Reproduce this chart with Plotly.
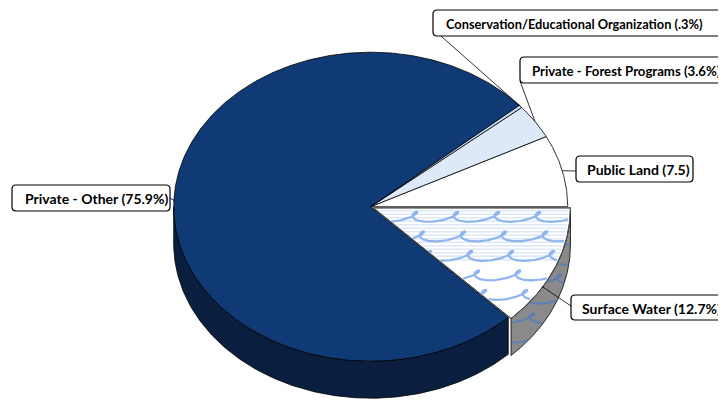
import numpy as np
import plotly.graph_objects as go

# ---------------- data ----------------
categories = ["Public Land", "Private - Forest Programs",
              "Conservation/Educational Organization", "Private - Other", "Surface Water"]
values = [7.5, 3.6, 0.3, 75.9, 12.7]
label_texts = ["Public Land (7.5)", "Private - Forest Programs (3.6%)",
               "Conservation/Educational Organization (.3%)", "Private - Other (75.9%)",
               "Surface Water (12.7%)"]

# ---------------- style / layout ----------------
top_colors = ["#ffffff", "#dde9f9", "#c9dcf5", "#103a75", "#ffffff"]
side_colors = ["#bdbdbd", "#a9b6c8", "#9aaac0", "#0a1f40", "#8a8a8a"]
W, H = 726, 401
PAGE_MARGIN = 8  # default browser body margin
CX, CY, RX, RY, DEPTH = 370.7, 206.7, 197.0, 154.5, 37.0
EXPLODE = [0, 0, 0, 0, 3.0]
# label boxes: (x0, y0, x1, y1, text_x, font_size), leader start point
boxes = [(576, 156, 693, 182, 585, 14), (520, 57, 760, 83, 530, 13.2),
         (433, 10, 760, 36, 444, 12.8), (12, 185, 170, 211, 23, 14),
         (571, 295, 724, 320, 580, 14)]
leader_start = [(576, 171), (520, 81), (433, 29), (170, 198), (571, 306)]
FONT = "Lato, Roboto, sans-serif"

total = sum(values)
cum = np.concatenate([[0], np.cumsum(values)]) / total * 360.0
starts, ends = cum[:-1], cum[1:]
mids = (starts + ends) / 2


def offset(i):
    m = np.radians(mids[i])
    return EXPLODE[i] * np.cos(m), -EXPLODE[i] * np.sin(m)


def ell(t, ox=0.0, oy=0.0, dz=0.0):
    t = np.radians(np.asarray(t, dtype=float))
    return CX + ox + RX * np.cos(t), CY + oy - RY * np.sin(t) + dz


fig = go.Figure()


def poly(xs, ys, fill, line="#000000", lw=0.8):
    fig.add_trace(go.Scatter(x=list(xs), y=list(ys), mode="lines", fill="toself",
                             fillcolor=fill, line=dict(color=line, width=lw),
                             hoverinfo="skip"))


def lines(xs, ys, color, lw):
    fig.add_trace(go.Scatter(x=xs, y=ys, mode="lines", line=dict(color=color, width=lw),
                             hoverinfo="skip", connectgaps=False))


def in_sector(x, y, i):
    ox, oy = offset(i)
    u = (x - CX - ox) / RX
    v = -(y - CY - oy) / RY
    r = u * u + v * v
    a = np.degrees(np.arctan2(v, u)) % 360
    return (r <= 0.985) & (a >= starts[i] + 0.4) & (a <= ends[i] - 0.4)


def in_side(x, y, i, s1, s2):
    ox, oy = offset(i)
    u = (x - CX - ox) / RX
    ok = np.abs(u) < 0.999
    uc = np.clip(u, -1, 1)
    t = (360 - np.degrees(np.arccos(uc))) % 360
    ytop = CY + oy + RY * np.sqrt(1 - uc * uc)
    return ok & (t >= s1 + 0.5) & (t <= s2 - 0.5) & (y >= ytop + 1) & (y <= ytop + DEPTH - 1)


def wave_lines(mask_fn, color, lw, y_rows, x_lo=330, x_hi=590):
    """Curling wave pattern (sheared prolate trochoid) clipped by mask_fn."""
    period, amp, loop, shear = 41.0, 5.0, 1.45, -0.9
    xs_all, ys_all = [], []
    for k, yr in enumerate(y_rows):
        s = np.arange(0, (x_hi - x_lo) / period * 2 * np.pi, 0.04)
        y = yr - amp * np.cos(s)
        x = x_lo + k * 7.0 + period / (2 * np.pi) * (s - loop * np.sin(s)) + shear * (y - yr)
        m = mask_fn(x, y)
        xs_all += [float(a) if mm else None for a, mm in zip(x, m)] + [None]
        ys_all += [float(b) if mm else None for b, mm in zip(y, m)] + [None]
    lines(xs_all, ys_all, color, lw)


# ---------------- sides (visible lower half) ----------------
for i in range(len(values)):
    s1, s2 = max(starts[i], 180.0), min(ends[i], 360.0)
    if s2 <= s1:
        continue
    ox, oy = offset(i)
    t = np.linspace(s1, s2, 200)
    xt, yt = ell(t, ox, oy)
    xb, yb = ell(t[::-1], ox, oy, DEPTH)
    poly(np.concatenate([xt, xb, xt[:1]]), np.concatenate([yt, yb, yt[:1]]), side_colors[i])
    if categories[i] == "Surface Water":
        rows = np.arange(CY + 14, CY + 200, 19.5)
        wave_lines(lambda x, y, i=i, s1=s1, s2=s2: in_side(x, y, i, s1, s2),
                   "#5d7fb5", 2.0, rows)

# ---------------- top faces ----------------
for i in range(len(values)):
    ox, oy = offset(i)
    n = max(int((ends[i] - starts[i]) * 2), 4)
    t = np.linspace(starts[i], ends[i], n)
    xa, ya = ell(t, ox, oy)
    cx, cy = CX + ox, CY + oy
    poly(np.concatenate([[cx], xa, [cx]]), np.concatenate([[cy], ya, [cy]]), top_colors[i])
    if categories[i] == "Surface Water":
        # faint horizontal stripes and wave pattern
        sx, sy = [], []
        for yy in np.arange(cy + 3, cy + 55, 3.5):
            x = np.arange(360, 575, 1.0)
            y = np.full_like(x, yy)
            m = in_sector(x, y, i)
            sx += [float(v) if mm else None for v, mm in zip(x, m)] + [None]
            sy += [float(yy) if mm else None for mm in m] + [None]
        lines(sx, sy, "#dde8f8", 1.5)
        rows = np.arange(cy + 9, cy + 130, 19.5)
        wave_lines(lambda x, y, i=i: in_sector(x, y, i), "#8fb5ee", 2.2, rows)
        fig.add_trace(go.Scatter(x=list(np.concatenate([[cx], xa, [cx]])),
                                 y=list(np.concatenate([[cy], ya, [cy]])), mode="lines",
                                 line=dict(color="#555555", width=0.9), hoverinfo="skip"))

# ---------------- leader lines ----------------
for i in range(len(values)):
    ox, oy = offset(i)
    ax, ay = ell(mids[i], ox, oy)
    if categories[i] == "Surface Water":
        ay = ay + DEPTH / 2
        ax = ax - 13
    sx, sy = leader_start[i]
    lines([sx, float(ax)], [sy, float(ay)], "#000000", 0.8)


# ---------------- label boxes ----------------
def rrect(x0, y0, x1, y1, r=4):
    return (f"M{x0+r},{y0} L{x1-r},{y0} Q{x1},{y0} {x1},{y0+r} L{x1},{y1-r} "
            f"Q{x1},{y1} {x1-r},{y1} L{x0+r},{y1} Q{x0},{y1} {x0},{y1-r} "
            f"L{x0},{y0+r} Q{x0},{y0} {x0+r},{y0} Z")


shapes, annotations = [], []
for i, (x0, y0, x1, y1, tx, fs) in enumerate(boxes):
    shapes.append(dict(type="path", path=rrect(x0, y0, x1, y1), xref="x", yref="y",
                       line=dict(color="#000000", width=1.2), fillcolor="#ffffff",
                       layer="above"))
    annotations.append(dict(x=tx, y=(y0 + y1) / 2 + 0.5, xref="x", yref="y",
                            text=label_texts[i], showarrow=False,
                            xanchor="left", yanchor="middle",
                            font=dict(family=FONT, size=fs, color="#000000", weight="bold")))

fig.update_layout(
    width=W - PAGE_MARGIN, height=H - PAGE_MARGIN, margin=dict(l=0, r=0, t=0, b=0),
    paper_bgcolor="#ffffff", plot_bgcolor="#ffffff", showlegend=False,
    xaxis=dict(range=[PAGE_MARGIN, W], visible=False, fixedrange=True),
    yaxis=dict(range=[H, PAGE_MARGIN], visible=False, fixedrange=True),
    shapes=shapes, annotations=annotations,
)

fig.write_html("out.html")
